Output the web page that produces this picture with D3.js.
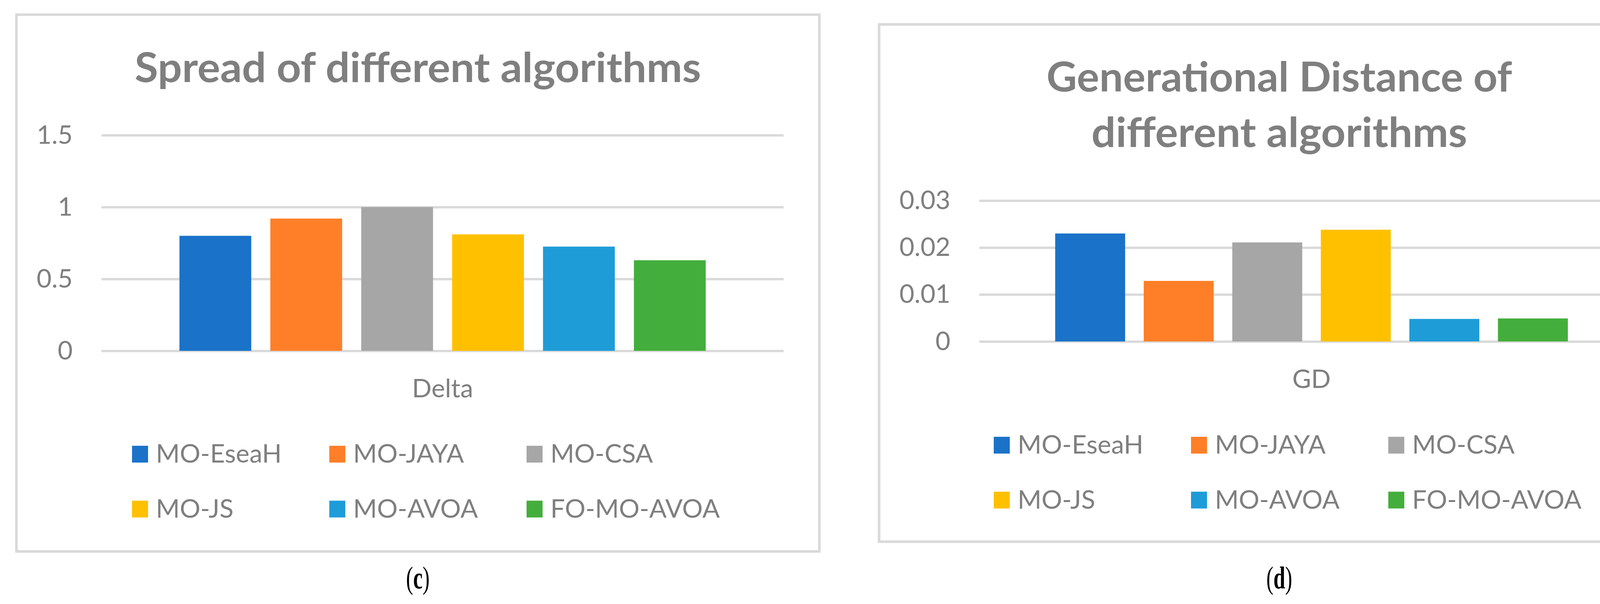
<!DOCTYPE html>
<html>
<head>
<meta charset="utf-8">
<script src="https://cdn.jsdelivr.net/npm/d3@7"></script>
<style>
  body { margin: 0; background: #fff; }
  svg { display: block; }
  text { font-family: Lato, "Open Sans", sans-serif; fill: #7f7f7f; }
</style>
</head>
<body>
<div id="chart"></div>
<script>
// data
const algorithms = ["MO-EseaH", "MO-JAYA", "MO-CSA", "MO-JS", "MO-AVOA", "FO-MO-AVOA"];
const colors = ["#1a73c9", "#fe7f28", "#a6a6a6", "#ffc000", "#1e9cd8", "#43ae3b"];
const deltaValues = [0.80, 0.92, 1.00, 0.81, 0.725, 0.63];
const gdValues = [0.0230, 0.0129, 0.0211, 0.0238, 0.0048, 0.0049];
const deltaTicks = [0, 0.5, 1, 1.5];
const gdTicks = [0, 0.01, 0.02, 0.03];

const W = 4339, H = 1546;

const svg = d3.select("#chart").append("svg")
    .attr("width", W)
    .attr("height", H);

svg.append("rect").attr("width", W).attr("height", H).attr("fill", "#fff");

// layout of each panel (pixels)
const panels = [
  {
    category: "Delta", values: deltaValues, ticks: deltaTicks, letter: "c",
    box: [42, 37.5, 2097.5, 1411.5],
    title: ["Spread of different algorithms"], titleY: [210], titleW: [1450],
    x0: 260, x1: 2006, yBottom: 898, yTop: 346,
    legX: 338, legY: 1184
  },
  {
    category: "GD", values: gdValues, ticks: gdTicks, letter: "d",
    box: [2250.5, 62.5, 4299.5, 1386.5],
    title: ["Generational Distance of", "different algorithms"], titleY: [234, 376], titleW: [1192, 962],
    x0: 2507, x1: 4208, yBottom: 874, yTop: 513.5,
    legX: 2544, legY: 1161
  }
];

panels.forEach(drawPanel);

function drawPanel(p) {
  const g = svg.append("g");
  const [bx0, by0, bx1, by1] = p.box;
  const cx = (bx0 + bx1) / 2;

  // chart border
  g.append("rect")
    .attr("x", bx0).attr("y", by0)
    .attr("width", bx1 - bx0).attr("height", by1 - by0)
    .attr("fill", "#fff")
    .attr("stroke", "#d9d9d9")
    .attr("stroke-width", 6.5);

  // title
  p.title.forEach((line, i) => {
    g.append("text")
      .attr("x", cx).attr("y", p.titleY[i])
      .attr("text-anchor", "middle")
      .attr("font-size", 105)
      .attr("font-weight", 700)
      .attr("textLength", p.titleW[i])
      .attr("lengthAdjust", "spacingAndGlyphs")
      .text(line);
  });

  const y = d3.scaleLinear()
    .domain([0, d3.max(p.ticks)])
    .range([p.yBottom, p.yTop]);

  const xGroup = d3.scaleBand()
    .domain([p.category])
    .range([p.x0, p.x1])
    .paddingInner(0)
    .paddingOuter(0.148);

  const xBar = d3.scaleBand()
    .domain(algorithms)
    .range([0, xGroup.bandwidth()])
    .paddingInner(0.21)
    .paddingOuter(0);

  // gridlines + tick labels
  const axis = g.append("g")
    .attr("transform", `translate(${p.x0},0)`)
    .call(d3.axisLeft(y)
      .tickValues(p.ticks)
      .tickSize(-(p.x1 - p.x0))
      .tickPadding(74)
      .tickFormat(d => String(d)));
  axis.attr("font-size", 66).attr("font-family", null);
  axis.select(".domain").remove();
  axis.selectAll(".tick line")
    .attr("stroke", "#d9d9d9")
    .attr("stroke-width", 6);
  axis.selectAll(".tick text").attr("font-size", 66);

  // bars
  g.selectAll(".bar")
    .data(p.values)
    .join("rect")
    .attr("class", "bar")
    .attr("x", (d, i) => xGroup(p.category) + xBar(algorithms[i]))
    .attr("y", d => y(d))
    .attr("width", xBar.bandwidth())
    .attr("height", d => y(0) - y(d))
    .attr("fill", (d, i) => colors[i]);

  // category label
  g.append("text")
    .attr("x", xGroup(p.category) + xGroup.bandwidth() / 2)
    .attr("y", y(0) + 119)
    .attr("text-anchor", "middle")
    .attr("font-size", 66)
    .text(p.category);

  // legend, 3 columns x 2 rows
  algorithms.forEach((a, i) => {
    const lx = p.legX + (i % 3) * 505;
    const ly = p.legY + Math.floor(i / 3) * 140.5;
    g.append("rect")
      .attr("x", lx).attr("y", ly - 43)
      .attr("width", 41).attr("height", 43)
      .attr("fill", colors[i]);
    g.append("text")
      .attr("x", lx + 61).attr("y", ly)
      .attr("font-size", 66)
      .text(a);
  });

  // sub-figure caption, narrow serif like the source
  const cap = svg.append("text")
    .attr("transform", `translate(${cx},1506) scale(0.68,1)`)
    .attr("text-anchor", "middle")
    .attr("font-size", 80)
    .style("font-family", "'Liberation Serif', 'DejaVu Serif', serif")
    .style("fill", "#000");
  cap.append("tspan").text("(");
  cap.append("tspan").attr("font-weight", 700).text(p.letter);
  cap.append("tspan").text(")");
}
</script>
</body>
</html>
